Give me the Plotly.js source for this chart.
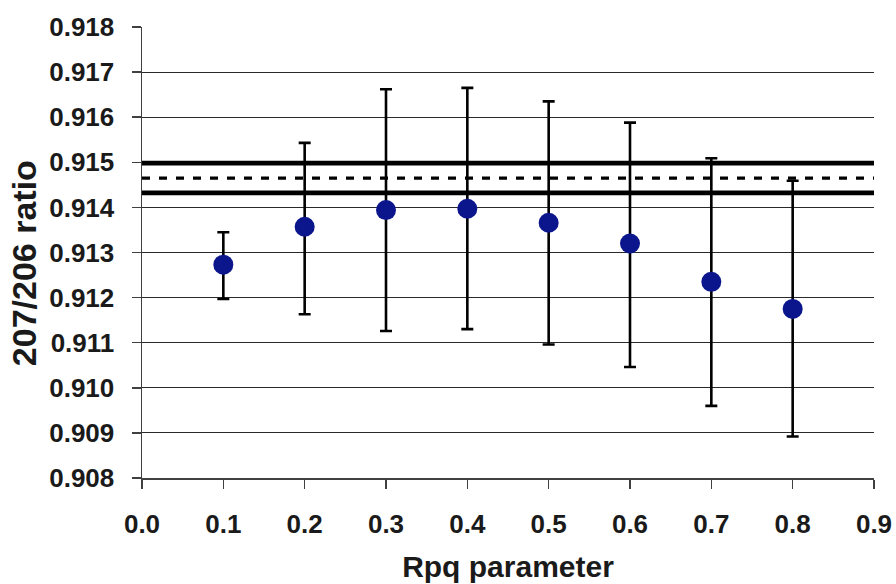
<!DOCTYPE html>
<html>
<head>
<meta charset="utf-8">
<script src="https://cdn.plot.ly/plotly-3.0.1.min.js"></script>
<style>html,body{margin:0;padding:0;background:#fff;}#chart{width:896px;height:584px;}</style>
</head>
<body>
<div id="chart"></div>
<script>
// Data
const rpq = [0.1, 0.2, 0.3, 0.4, 0.5, 0.6, 0.7, 0.8];
const ratio = [0.91273, 0.91357, 0.91394, 0.91397, 0.91366, 0.91320, 0.91235, 0.91175];
const errUpper = [0.91345, 0.91543, 0.91662, 0.91665, 0.91635, 0.91588, 0.91509, 0.91459];
const errLower = [0.91197, 0.91163, 0.91126, 0.91130, 0.91096, 0.91046, 0.90960, 0.90892];
const refUpper = 0.91498;
const refMean = 0.91465;
const refLower = 0.91432;
const xSpan = [0.0, 0.9];
const xTicks = [0.0, 0.1, 0.2, 0.3, 0.4, 0.5, 0.6, 0.7, 0.8, 0.9];
const xTickText = ["0.0","0.1","0.2","0.3","0.4","0.5","0.6","0.7","0.8","0.9"];
const yTicks = [0.908,0.909,0.910,0.911,0.912,0.913,0.914,0.915,0.916,0.917,0.918];
const yTickText = ["0.908","0.909","0.910","0.911","0.912","0.913","0.914","0.915","0.916","0.917","0.918"];
const yTitle = '207/206 ratio';
const xTitle = 'Rpq parameter';

const plus = errUpper.map((u, i) => u - ratio[i]);
const minus = errLower.map((l, i) => ratio[i] - l);

const FONT = "Liberation Sans, Arial, sans-serif";

const traces = [
  {x: xSpan, y: [refUpper, refUpper], mode: 'lines', line: {color: '#000', width: 4.8}, hoverinfo: 'skip', showlegend: false},
  {x: xSpan, y: [refMean, refMean], mode: 'lines', line: {color: '#000', width: 3.2, dash: '8px,9px'}, hoverinfo: 'skip', showlegend: false},
  {x: xSpan, y: [refLower, refLower], mode: 'lines', line: {color: '#000', width: 4.8}, hoverinfo: 'skip', showlegend: false},
  {
    x: rpq, y: ratio, mode: 'markers', type: 'scatter', showlegend: false,
    marker: {color: '#0c168c', size: 20, line: {width: 0}},
    error_y: {type: 'data', symmetric: false, array: plus, arrayminus: minus, color: '#000', thickness: 2.6, width: 6}
  }
];

const layout = {
  width: 896, height: 584,
  margin: {l: 142, r: 22, t: 27, b: 106},
  paper_bgcolor: '#fff', plot_bgcolor: '#fff',
  font: {family: FONT, color: '#1a1a1a'},
  xaxis: {
    range: [0, 0.9], tickmode: 'array', tickvals: xTicks, ticktext: xTickText,
    showgrid: false, zeroline: false, showline: true, linecolor: '#404040', linewidth: 1.5,
    ticks: 'outside', ticklen: 9, tickwidth: 1.5, tickcolor: '#404040',
    ticklabelstandoff: 13,
    tickfont: {family: FONT, size: 26, color: '#1a1a1a', weight: 'bold'},
    title: {text: xTitle, font: {family: FONT, size: 30, color: '#1a1a1a', weight: 'bold'}, standoff: 18},
    fixedrange: true
  },
  yaxis: {
    range: [0.908, 0.918], tickmode: 'array', tickvals: yTicks, ticktext: yTickText,
    showgrid: true, gridcolor: '#2a2a2a', gridwidth: 1, zeroline: false,
    showline: true, linecolor: '#404040', linewidth: 1.5,
    ticks: 'outside', ticklen: 9, tickwidth: 1.5, tickcolor: '#404040',
    ticklabelstandoff: 12,
    tickfont: {family: FONT, size: 26, color: '#1a1a1a', weight: 'bold'},
    fixedrange: true
  },
  annotations: [{
    text: yTitle, xref: 'paper', yref: 'paper', x: -0.161, y: 0.4767,
    xanchor: 'center', yanchor: 'middle', textangle: -90, showarrow: false,
    font: {family: FONT, size: 34, color: '#1a1a1a', weight: 'bold'}
  }],
  showlegend: false
};

Plotly.newPlot('chart', traces, layout, {staticPlot: true, displayModeBar: false});
</script>
</body>
</html>
